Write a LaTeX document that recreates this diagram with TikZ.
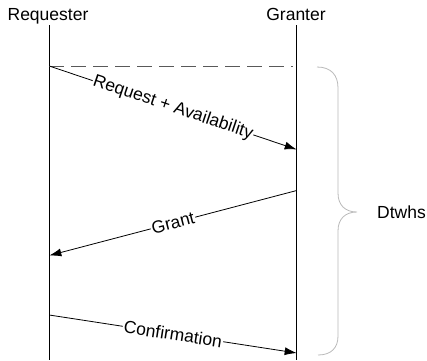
\documentclass[tikz,border=0pt]{standalone}
\usepackage{fontspec}
\setmainfont{Liberation Sans}
\usetikzlibrary{arrows.meta}

\tikzset{
  lifeline/.style={draw, line width=0.9pt},
  message/.style={->, line width=0.8pt},
  msglabel/.style={midway, sloped, fill=white, inner sep=1pt},
  timebrace/.style={draw=gray!55, line width=0.8pt}
}

\begin{document}
\begin{tikzpicture}[x=1pt, y=-1pt, >={Latex[length=12pt,width=8pt]},
  font=\fontsize{17.5}{20}\selectfont]
  \useasboundingbox (0,0) rectangle (427,360);

  % --- headers and lifelines ---
  \node[anchor=base] (req) at (48,20.5) {Requester};
  \node[anchor=base] (gra) at (296,20.5) {Granter};
  \coordinate (reqtop) at (49.3,25);
  \coordinate (reqbot) at (49.3,360);
  \coordinate (gratop) at (296.7,25);
  \coordinate (grabot) at (296.7,360);
  \draw[lifeline] (reqtop) -- (reqbot);
  \draw[lifeline] (gratop) -- (grabot);

  % --- points on the lifelines ---
  \coordinate (r1) at (49.3,66);
  \coordinate (d1) at (293,66);
  \coordinate (g1) at (296.7,149.5);
  \coordinate (g2) at (296.7,190.5);
  \coordinate (r2) at (49.3,255.5);
  \coordinate (r3) at (49.3,315);
  \coordinate (g3) at (296.7,353);

  % --- reference line ---
  \draw[gray!70!black, line width=0.9pt, dash pattern=on 15pt off 7pt] (r1) -- (d1);

  % --- messages ---
  \draw[message] (r1) -- (g1) node[msglabel] {Request + Availability};
  \draw[message] (g2) -- (r2) node[msglabel] {Grant};
  \draw[message] (r3) -- (g3) node[msglabel] {Confirmation};

  % --- brace ---
  \draw[timebrace] (317,67) .. controls (331,67) and (338,75) .. (338,88)
    -- (338,193) .. controls (338,205) and (345,212) .. (357,212)
    .. controls (345,212) and (338,219) .. (338,231)
    -- (338,336) .. controls (338,348) and (331,355) .. (318,355);
  \node[anchor=west, inner sep=0pt] (dtw) at (377,212) {Dtwhs};

\end{tikzpicture}
\end{document}
